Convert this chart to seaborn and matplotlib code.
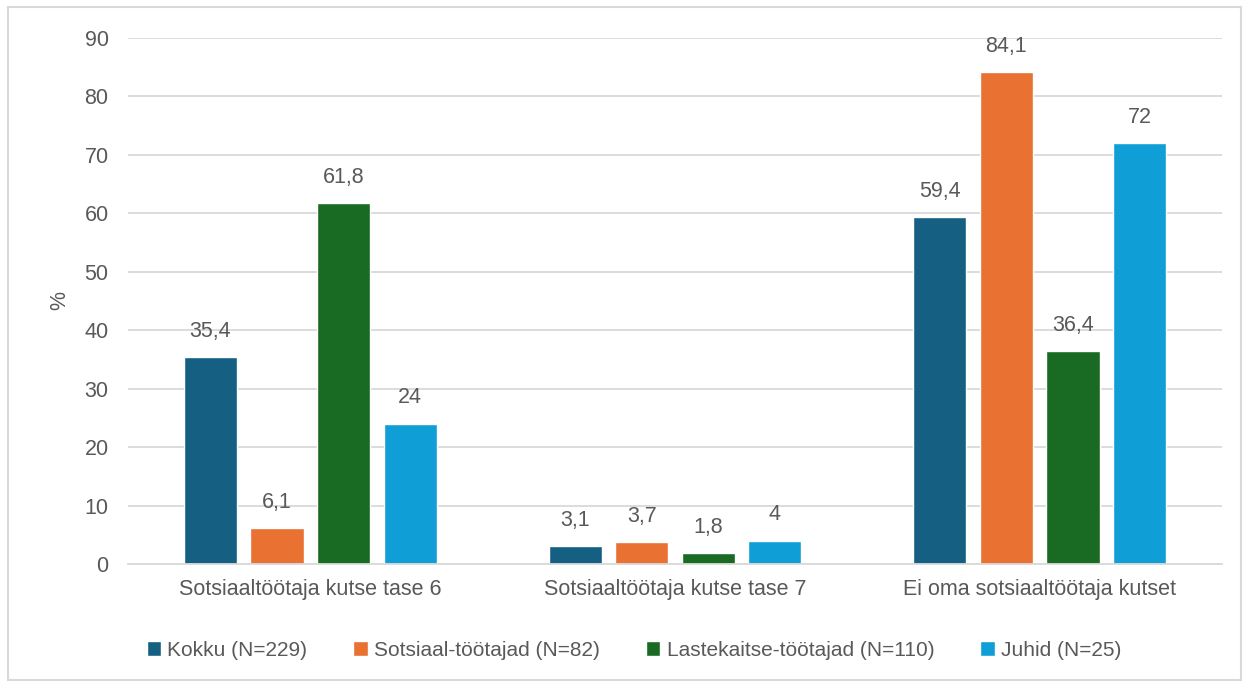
import matplotlib
matplotlib.use("Agg")
import matplotlib.pyplot as plt
import seaborn as sns
import pandas as pd
from matplotlib.patches import Rectangle

categories = ["Sotsiaaltöötaja kutse tase 6", "Sotsiaaltöötaja kutse tase 7", "Ei oma sotsiaaltöötaja kutset"]
series = ["Kokku (N=229)", "Sotsiaal-töötajad (N=82)", "Lastekaitse-töötajad (N=110)", "Juhid (N=25)"]
kokku = [35.4, 3.1, 59.4]
sotsiaal = [6.1, 3.7, 84.1]
lastekaitse = [61.8, 1.8, 36.4]
juhid = [24, 4, 72]
colors = ["#156082", "#E97132", "#196B24", "#0F9ED5"]
yticks = [0, 10, 20, 30, 40, 50, 60, 70, 80, 90]

rows = []
for s, vals in zip(series, [kokku, sotsiaal, lastekaitse, juhid]):
    for c, v in zip(categories, vals):
        rows.append({"cat": c, "series": s, "value": v})
df = pd.DataFrame(rows)

sns.set_theme(style="white")
plt.rcParams["font.family"] = ["Liberation Sans", "DejaVu Sans"]
text_color = "#595959"
fs = 15.5

fig = plt.figure(figsize=(12.43, 6.83), dpi=100)
ax = fig.add_axes([128/1243, 1 - 564/683, (1222-128)/1243, (564-38)/683])

sns.barplot(data=df, x="cat", y="value", hue="series", palette=colors,
            width=0.73, gap=0.2, ax=ax, legend=True, saturation=1)

def fmt(v):
    s = ("%.1f" % v).rstrip("0").rstrip(".")
    return s.replace(".", ",")

for cont in ax.containers:
    ax.bar_label(cont, labels=[fmt(b.get_height()) for b in cont], padding=11,
                 fontsize=fs, color=text_color)

ax.set_ylim(0, 90)
ax.set_yticks(yticks)
ax.set_yticklabels([str(t) for t in yticks], fontsize=fs, color=text_color)
ax.tick_params(axis="y", length=0, pad=14)
ax.tick_params(axis="x", length=0, pad=11, labelsize=fs, labelcolor=text_color)
ax.set_xlabel("")
ax.set_ylabel("%", fontsize=fs, color=text_color, labelpad=10)
ax.yaxis.grid(True, color="#D9D9D9", linewidth=1.3)
ax.set_axisbelow(True)
for sp in ["top", "right", "left"]:
    ax.spines[sp].set_visible(False)
ax.spines["bottom"].set_color("#D9D9D9")
ax.spines["bottom"].set_linewidth(1.3)
ax.set_xlim(-0.5, 2.5)

handles, labels = ax.get_legend_handles_labels()
ax.legend(handles, labels, loc="upper center", bbox_to_anchor=(0.4625, -0.11),
          ncol=4, frameon=False, fontsize=15, handlelength=0.7, handleheight=0.7,
          handletextpad=0.3, columnspacing=2.2, labelcolor=text_color)

fig.patches.append(Rectangle((8/1243, 3/683), 1 - 10/1243, 1 - 10/683,
                             transform=fig.transFigure, fill=False,
                             edgecolor="#D9D9D9", linewidth=1.5))

fig.savefig("out.png", dpi=100, facecolor="white")
